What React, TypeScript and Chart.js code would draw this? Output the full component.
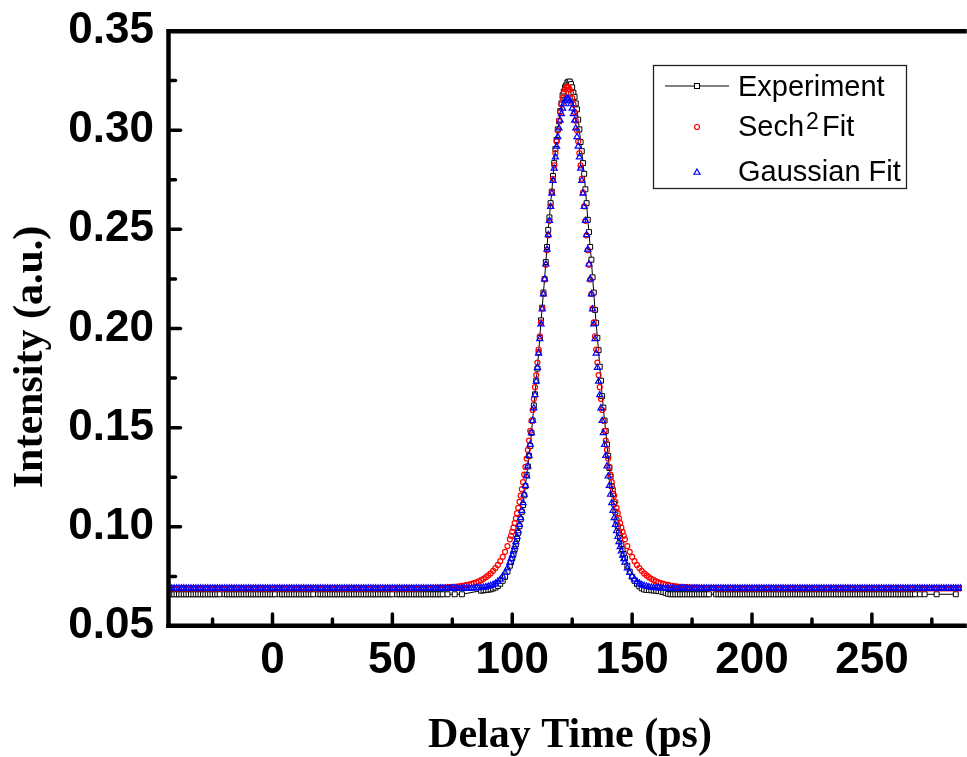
import { useEffect, useRef } from "react";
import { Chart, registerables } from "chart.js";

Chart.register(...registerables);

// ---------- axis settings ----------
const X_MIN = -44;
const X_MAX = 287.5;
const X_STEP = 50;
const Y_MIN = 0.05;
const Y_MAX = 0.35;
const Y_STEP = 0.05;

// ---------- time grids (ps) ----------
function makeTimes(start: number, end: number, step: number): number[] {
  const out: number[] = [];
  for (let i = 0; start + i * step <= end + 1e-9; i++) out.push(+(start + i * step).toFixed(2));
  return out;
}
const leftTimes = makeTimes(-44, 99, 1); // 144 points
const peakTimes = makeTimes(99.5, 146.5, 0.5); // 95 points
const rightTimes = makeTimes(147, 288, 1); // 142 points

// ---------- Experiment (intensity, a.u.) ----------
const experimentLeft: (number | null)[] = [
  0.066, 0.066, 0.066, 0.066, 0.066, 0.066, 0.066, 0.066, 0.066, 0.066, 0.066, 0.066, 0.066, 0.066, 0.066, 0.066,
  0.066, 0.066, 0.066, 0.066, 0.066, 0.066, 0.066, null, 0.066, 0.066, 0.066, 0.066, 0.066, 0.066, 0.066, 0.066,
  0.066, 0.066, 0.066, 0.066, 0.066, 0.066, 0.066, 0.066, 0.066, 0.066, 0.066, 0.066, 0.066, 0.066, null, 0.066,
  0.066, 0.066, 0.066, 0.066, 0.066, 0.066, 0.066, 0.066, 0.066, 0.066, 0.066, 0.066, 0.066, 0.066, null, 0.066,
  0.066, 0.066, 0.066, 0.066, 0.066, 0.066, 0.066, 0.066, 0.066, 0.066, 0.066, 0.066, 0.066, 0.066, 0.066, 0.066,
  0.066, 0.066, 0.066, 0.066, 0.066, 0.066, 0.066, 0.066, 0.066, 0.066, 0.066, 0.066, 0.066, 0.066, 0.066, null,
  0.066, 0.066, 0.066, 0.066, 0.066, 0.066, 0.066, 0.066, 0.066, 0.066, 0.066, 0.066, 0.066, 0.066, 0.066, 0.066,
  0.066, 0.066, 0.066, 0.066, null, 0.066, null, null, 0.066, null, null, 0.066,
  null, null, null, null, null, null, null,
  0.0678, 0.068, 0.0681, 0.0683, 0.0685, 0.0689, 0.0694, 0.0702, 0.0713, 0.0728, 0.0748, 0.0774, 0.0804,
];
const experimentPeak: number[] = [
  0.0822, 0.0842, 0.0863, 0.0887, 0.0912, 0.094, 0.097, 0.1003, 0.1038, 0.1076, 0.111, 0.1159, 0.1205, 0.1262,
  0.1304, 0.1358, 0.1408, 0.1474, 0.1536, 0.1612, 0.1668, 0.1737, 0.1798, 0.188, 0.1953, 0.2041, 0.2105, 0.2181,
  0.2249, 0.2335, 0.2411, 0.2497, 0.256, 0.2632, 0.269, 0.2769, 0.2834, 0.2905, 0.2951, 0.3004, 0.3045, 0.3096,
  0.3135, 0.3176, 0.3195, 0.3216, 0.3226, 0.3241, 0.3244, 0.3245, 0.3232, 0.3216, 0.3189, 0.3168, 0.3135, 0.3105,
  0.3053, 0.3004, 0.294, 0.2894, 0.2834, 0.278, 0.2702, 0.2632, 0.2548, 0.2486, 0.2411, 0.2347, 0.2258, 0.2181,
  0.2094, 0.2029, 0.1953, 0.1891, 0.1807, 0.1737, 0.1659, 0.1601, 0.1536, 0.1483, 0.1415, 0.1358, 0.1297, 0.1253,
  0.1205, 0.1166, 0.1116, 0.1076, 0.1033, 0.1003, 0.097, 0.0944, 0.0912, 0.0887, 0.0863,
];
const experimentRight: (number | null)[] = [
  0.0842, 0.0804, 0.0774, 0.0748, 0.0728, 0.0712, 0.07, 0.069, 0.0684, 0.0682, 0.0681, 0.068, 0.0679, 0.0678,
  0.0676, 0.0674, 0.0671, 0.0667, 0.0662,
  0.066, 0.066, 0.066, 0.066, 0.066, 0.066, 0.066, 0.066, 0.066, 0.066, 0.066, 0.066, 0.066, 0.066, 0.066, 0.066,
  0.066, null, null, 0.066, 0.066, 0.066, 0.066, 0.066, 0.066, 0.066, 0.066, 0.066, 0.066, 0.066, 0.066, 0.066,
  0.066, 0.066, 0.066, 0.066, 0.066, 0.066, 0.066, 0.066, 0.066, 0.066, 0.066, 0.066, 0.066, 0.066, 0.066, 0.066,
  0.066, 0.066, 0.066, 0.066, 0.066, 0.066, 0.066, 0.066, 0.066, 0.066, 0.066, 0.066, 0.066, 0.066, 0.066, 0.066,
  0.066, 0.066, 0.066, 0.066, 0.066, 0.066, 0.066, 0.066, 0.066, 0.066, 0.066, 0.066, 0.066, 0.066, 0.066, 0.066,
  0.066, 0.066, 0.066, 0.066, 0.066, 0.066, 0.066, 0.066, 0.066, 0.066, 0.066, 0.066, 0.066, 0.066, 0.066, 0.066,
  0.066, 0.066, 0.066, 0.066, 0.066, 0.066, 0.066, null, 0.066, null, 0.066, null, null, null, null, 0.066,
  null, null, null, null, null, null, null, 0.066, null, null, null,
];

// ---------- Sech^2 fit ----------
const sechLeft: number[] = [
  0.069, 0.069, 0.069, 0.069, 0.069, 0.069, 0.069, 0.069, 0.069, 0.069, 0.069, 0.069, 0.069, 0.069, 0.069, 0.069,
  0.069, 0.069, 0.069, 0.069, 0.069, 0.069, 0.069, 0.069, 0.069, 0.069, 0.069, 0.069, 0.069, 0.069, 0.069, 0.069,
  0.069, 0.069, 0.069, 0.069, 0.069, 0.069, 0.069, 0.069, 0.069, 0.069, 0.069, 0.069, 0.069, 0.069, 0.069, 0.069,
  0.069, 0.069, 0.069, 0.069, 0.069, 0.069, 0.069, 0.069, 0.069, 0.069, 0.069, 0.069, 0.069, 0.069, 0.069, 0.069,
  0.069, 0.069, 0.069, 0.069, 0.069, 0.069, 0.069, 0.069, 0.069, 0.069, 0.069, 0.069, 0.069, 0.069, 0.069, 0.069,
  0.069, 0.069, 0.069, 0.069, 0.069, 0.069, 0.069, 0.069, 0.069, 0.069, 0.069, 0.069, 0.069, 0.069, 0.069, 0.069,
  0.069, 0.069, 0.069, 0.069, 0.069, 0.069, 0.069, 0.069, 0.069, 0.069, 0.069,
  0.0691, 0.0691, 0.0691, 0.0692, 0.0692, 0.0692, 0.0693, 0.0693, 0.0694, 0.0694, 0.0695, 0.0696, 0.0697, 0.0698,
  0.0699, 0.07, 0.0702, 0.0704, 0.0707, 0.0709, 0.0712, 0.0716, 0.072, 0.0725, 0.0731, 0.0738, 0.0746, 0.0755,
  0.0765, 0.0778, 0.0792, 0.0808, 0.0827, 0.0849, 0.0874, 0.0903, 0.0937,
];
const sechPeak: number[] = [
  0.0955, 0.0975, 0.0996, 0.1019, 0.1043, 0.1069, 0.1096, 0.1126, 0.1157, 0.119, 0.1225, 0.1263, 0.1302, 0.1344,
  0.1388, 0.1435, 0.1484, 0.1535, 0.1589, 0.1645, 0.1704, 0.1765, 0.1828, 0.1894, 0.1961, 0.2031, 0.2101, 0.2174,
  0.2247, 0.2321, 0.2395, 0.247, 0.2543, 0.2616, 0.2687, 0.2755, 0.2822, 0.2884, 0.2943, 0.2998, 0.3048, 0.3092,
  0.313, 0.3162, 0.3187, 0.3205, 0.3216, 0.322, 0.3216, 0.3205, 0.3187, 0.3162, 0.313, 0.3092, 0.3048, 0.2998,
  0.2943, 0.2884, 0.2822, 0.2755, 0.2687, 0.2616, 0.2543, 0.247, 0.2395, 0.2321, 0.2247, 0.2174, 0.2101, 0.2031,
  0.1961, 0.1894, 0.1828, 0.1765, 0.1704, 0.1645, 0.1589, 0.1535, 0.1484, 0.1435, 0.1388, 0.1344, 0.1302, 0.1263,
  0.1225, 0.119, 0.1157, 0.1126, 0.1096, 0.1069, 0.1043, 0.1019, 0.0996, 0.0975, 0.0955,
];
const sechRight: number[] = [
  0.0937, 0.0903, 0.0874, 0.0849, 0.0827, 0.0808, 0.0792, 0.0778, 0.0765, 0.0755, 0.0746, 0.0738, 0.0731, 0.0725,
  0.072, 0.0716, 0.0712, 0.0709, 0.0707, 0.0704, 0.0702, 0.07, 0.0699, 0.0698, 0.0697, 0.0696, 0.0695, 0.0694,
  0.0694, 0.0693, 0.0693, 0.0692, 0.0692, 0.0692, 0.0691, 0.0691, 0.0691,
  0.069, 0.069, 0.069, 0.069, 0.069, 0.069, 0.069, 0.069, 0.069, 0.069, 0.069, 0.069, 0.069, 0.069, 0.069, 0.069,
  0.069, 0.069, 0.069, 0.069, 0.069, 0.069, 0.069, 0.069, 0.069, 0.069, 0.069, 0.069, 0.069, 0.069, 0.069, 0.069,
  0.069, 0.069, 0.069, 0.069, 0.069, 0.069, 0.069, 0.069, 0.069, 0.069, 0.069, 0.069, 0.069, 0.069, 0.069, 0.069,
  0.069, 0.069, 0.069, 0.069, 0.069, 0.069, 0.069, 0.069, 0.069, 0.069, 0.069, 0.069, 0.069, 0.069, 0.069, 0.069,
  0.069, 0.069, 0.069, 0.069, 0.069, 0.069, 0.069, 0.069, 0.069, 0.069, 0.069, 0.069, 0.069, 0.069, 0.069, 0.069,
  0.069, 0.069, 0.069, 0.069, 0.069, 0.069, 0.069, 0.069, 0.069, 0.069, 0.069, 0.069, 0.069, 0.069, 0.069, 0.069,
  0.069, 0.069, 0.069, 0.069, 0.069, 0.069, 0.069, 0.069, 0.069,
];

// ---------- Gaussian fit ----------
const gaussLeft: number[] = [
  0.069, 0.069, 0.069, 0.069, 0.069, 0.069, 0.069, 0.069, 0.069, 0.069, 0.069, 0.069, 0.069, 0.069, 0.069, 0.069,
  0.069, 0.069, 0.069, 0.069, 0.069, 0.069, 0.069, 0.069, 0.069, 0.069, 0.069, 0.069, 0.069, 0.069, 0.069, 0.069,
  0.069, 0.069, 0.069, 0.069, 0.069, 0.069, 0.069, 0.069, 0.069, 0.069, 0.069, 0.069, 0.069, 0.069, 0.069, 0.069,
  0.069, 0.069, 0.069, 0.069, 0.069, 0.069, 0.069, 0.069, 0.069, 0.069, 0.069, 0.069, 0.069, 0.069, 0.069, 0.069,
  0.069, 0.069, 0.069, 0.069, 0.069, 0.069, 0.069, 0.069, 0.069, 0.069, 0.069, 0.069, 0.069, 0.069, 0.069, 0.069,
  0.069, 0.069, 0.069, 0.069, 0.069, 0.069, 0.069, 0.069, 0.069, 0.069, 0.069, 0.069, 0.069, 0.069, 0.069, 0.069,
  0.069, 0.069, 0.069, 0.069, 0.069, 0.069, 0.069, 0.069, 0.069, 0.069, 0.069, 0.069, 0.069, 0.069, 0.069, 0.069,
  0.069, 0.069, 0.069, 0.069, 0.069, 0.069, 0.069, 0.069, 0.069, 0.069, 0.069, 0.069, 0.069, 0.069, 0.069, 0.069,
  0.0691, 0.0692, 0.0692, 0.0693, 0.0695, 0.0697, 0.07, 0.0703, 0.0708, 0.0715, 0.0724, 0.0735, 0.075, 0.0769,
  0.0792, 0.0821,
];
const gaussPeak: number[] = [
  0.0838, 0.0856, 0.0877, 0.0899, 0.0924, 0.095, 0.0979, 0.1011, 0.1045, 0.1082, 0.1121, 0.1163, 0.1208, 0.1255,
  0.1306, 0.1359, 0.1415, 0.1474, 0.1535, 0.1599, 0.1665, 0.1733, 0.1803, 0.1875, 0.1948, 0.2022, 0.2097, 0.2173,
  0.2249, 0.2324, 0.2399, 0.2472, 0.2544, 0.2614, 0.2681, 0.2746, 0.2807, 0.2864, 0.2918, 0.2966, 0.301, 0.3049,
  0.3082, 0.311, 0.3132, 0.3147, 0.3157, 0.316, 0.3157, 0.3147, 0.3132, 0.311, 0.3082, 0.3049, 0.301, 0.2966,
  0.2918, 0.2864, 0.2807, 0.2746, 0.2681, 0.2614, 0.2544, 0.2472, 0.2399, 0.2324, 0.2249, 0.2173, 0.2097, 0.2022,
  0.1948, 0.1875, 0.1803, 0.1733, 0.1665, 0.1599, 0.1535, 0.1474, 0.1415, 0.1359, 0.1306, 0.1255, 0.1208, 0.1163,
  0.1121, 0.1082, 0.1045, 0.1011, 0.0979, 0.095, 0.0924, 0.0899, 0.0877, 0.0856, 0.0838,
];
const gaussRight: number[] = [
  0.0821, 0.0792, 0.0769, 0.075, 0.0735, 0.0724, 0.0715, 0.0708, 0.0703, 0.07, 0.0697, 0.0695, 0.0693, 0.0692,
  0.0692, 0.0691,
  0.069, 0.069, 0.069, 0.069, 0.069, 0.069, 0.069, 0.069, 0.069, 0.069, 0.069, 0.069, 0.069, 0.069, 0.069, 0.069,
  0.069, 0.069, 0.069, 0.069, 0.069, 0.069, 0.069, 0.069, 0.069, 0.069, 0.069, 0.069, 0.069, 0.069, 0.069, 0.069,
  0.069, 0.069, 0.069, 0.069, 0.069, 0.069, 0.069, 0.069, 0.069, 0.069, 0.069, 0.069, 0.069, 0.069, 0.069, 0.069,
  0.069, 0.069, 0.069, 0.069, 0.069, 0.069, 0.069, 0.069, 0.069, 0.069, 0.069, 0.069, 0.069, 0.069, 0.069, 0.069,
  0.069, 0.069, 0.069, 0.069, 0.069, 0.069, 0.069, 0.069, 0.069, 0.069, 0.069, 0.069, 0.069, 0.069, 0.069, 0.069,
  0.069, 0.069, 0.069, 0.069, 0.069, 0.069, 0.069, 0.069, 0.069, 0.069, 0.069, 0.069, 0.069, 0.069, 0.069, 0.069,
  0.069, 0.069, 0.069, 0.069, 0.069, 0.069, 0.069, 0.069, 0.069, 0.069, 0.069, 0.069, 0.069, 0.069, 0.069, 0.069,
  0.069, 0.069, 0.069, 0.069, 0.069, 0.069, 0.069, 0.069, 0.069, 0.069, 0.069, 0.069, 0.069, 0.069,
];

// ---------- text ----------
const X_TITLE = "Delay Time (ps)";
const Y_TITLE = "Intensity (a.u.)";

function zip(times: number[], values: (number | null)[]) {
  return times.map((t, i) => ({ x: t, y: values[i] === undefined ? null : values[i] }));
}

const SANS = '"Liberation Sans", Arial, Helvetica, sans-serif';
const SERIF = '"Liberation Serif", "Times New Roman", Times, serif';

const decorPlugin = {
  id: "decor",
  afterDraw(chart: any) {
    const { ctx, chartArea: ca, scales } = chart;
    const xs = scales.x;
    const ys = scales.y;
    ctx.save();
    ctx.strokeStyle = "#000";
    ctx.fillStyle = "#000";

    const seg = (x1: number, y1: number, x2: number, y2: number) => {
      ctx.beginPath();
      ctx.moveTo(x1, y1);
      ctx.lineTo(x2, y2);
      ctx.stroke();
    };

    // inward tick marks
    ctx.lineCap = "round";
    ctx.lineWidth = 3.5;
    const axisX = ca.left + 1.5;
    const axisY = ca.bottom;
    const xMinor = new Set<number>();
    xs.ticks.forEach((t: any) => {
      const px = xs.getPixelForValue(t.value);
      seg(px, axisY, px, axisY - 12);
      [t.value - X_STEP / 2, t.value + X_STEP / 2].forEach((m) => {
        if (m >= X_MIN && m <= X_MAX) xMinor.add(+m.toFixed(3));
      });
    });
    xMinor.forEach((m) => {
      const px = xs.getPixelForValue(m);
      seg(px, axisY, px, axisY - 7);
    });
    const yMinor = new Set<number>();
    ys.ticks.forEach((t: any) => {
      const py = ys.getPixelForValue(t.value);
      seg(axisX, py, axisX + 12, py);
      [t.value - Y_STEP / 2, t.value + Y_STEP / 2].forEach((m) => {
        if (m > Y_MIN + 1e-9 && m < Y_MAX - 1e-9) yMinor.add(+m.toFixed(4));
      });
    });
    yMinor.forEach((m) => {
      const py = ys.getPixelForValue(m);
      seg(axisX, py, axisX + 7, py);
    });

    // frame
    ctx.lineCap = "butt";
    ctx.lineJoin = "miter";
    ctx.lineWidth = 4.5;
    ctx.beginPath();
    ctx.moveTo(axisX, ca.bottom + 2);
    ctx.lineTo(axisX, ca.top + 0.3);
    ctx.lineTo(ca.right + 5, ca.top + 0.3);
    ctx.stroke();
    seg(ca.left - 0.7, ca.bottom - 0.2, ca.right + 5, ca.bottom - 0.2);

    // axis titles
    ctx.font = `bold 42px ${SERIF}`;
    ctx.textAlign = "center";
    ctx.textBaseline = "alphabetic";
    ctx.fillText(X_TITLE, 570, 747);
    ctx.save();
    ctx.translate(42, 357);
    ctx.rotate(-Math.PI / 2);
    ctx.fillText(Y_TITLE, 0, 0);
    ctx.restore();

    // legend
    const lx = 653, ly = 65, lw = 254, lh = 124;
    ctx.fillStyle = "#fff";
    ctx.fillRect(lx, ly, lw, lh);
    ctx.strokeStyle = "#222";
    ctx.lineWidth = 1.3;
    ctx.strokeRect(lx + 0.5, ly + 0.5, lw - 1, lh - 1);

    const sx = 697;
    // Experiment
    ctx.strokeStyle = "#000";
    ctx.lineWidth = 1;
    seg(665, 86, 729, 86);
    ctx.fillStyle = "#fff";
    ctx.fillRect(sx - 2.5, 83.5, 5, 5);
    ctx.strokeRect(sx - 2.5, 83.5, 5, 5);
    // Sech
    ctx.strokeStyle = "#ff0000";
    ctx.lineWidth = 1.2;
    ctx.beginPath();
    ctx.arc(sx, 127, 2.5, 0, Math.PI * 2);
    ctx.stroke();
    // Gaussian
    ctx.strokeStyle = "#0000ff";
    ctx.beginPath();
    const r = 3.5, cy = 172.5;
    ctx.moveTo(sx, cy - r);
    ctx.lineTo(sx + r * Math.sin((2 * Math.PI) / 3), cy - r * Math.cos((2 * Math.PI) / 3));
    ctx.lineTo(sx + r * Math.sin((4 * Math.PI) / 3), cy - r * Math.cos((4 * Math.PI) / 3));
    ctx.closePath();
    ctx.stroke();

    ctx.fillStyle = "#000";
    ctx.textAlign = "left";
    ctx.textBaseline = "alphabetic";
    ctx.font = `29px ${SANS}`;
    ctx.fillText("Experiment", 738, 96);
    ctx.fillText("Sech", 738, 136);
    ctx.fillText("Fit", 822, 136);
    ctx.fillText("Gaussian Fit", 738, 181);
    ctx.font = `23px ${SANS}`;
    ctx.fillText("2", 806, 129);

    ctx.restore();
  },
};

export default function App() {
  const canvasRef = useRef<HTMLCanvasElement | null>(null);

  useEffect(() => {
    document.body.style.overflow = "hidden";
    const canvas = canvasRef.current;
    if (!canvas) return;

    const experiment = [...zip(leftTimes, experimentLeft), ...zip(peakTimes, experimentPeak), ...zip(rightTimes, experimentRight)];
    const sech = [...zip(leftTimes, sechLeft), ...zip(peakTimes, sechPeak), ...zip(rightTimes, sechRight)];
    const gauss = [...zip(leftTimes, gaussLeft), ...zip(peakTimes, gaussPeak), ...zip(rightTimes, gaussRight)];

    const tickFont = { family: SANS, size: 44, weight: "bold" as const };

    const chart = new Chart(canvas, {
      type: "scatter",
      data: {
        datasets: [
          {
            label: "Experiment",
            data: experiment,
            showLine: true,
            spanGaps: true,
            borderColor: "#000",
            borderWidth: 1,
            pointStyle: "rect",
            pointRadius: 3.5,
            pointBorderColor: "#000",
            pointBackgroundColor: "#fff",
            pointBorderWidth: 1,
            order: 2,
            clip: 0,
          } as any,
          {
            label: "Sech2 Fit",
            data: sech,
            showLine: false,
            pointStyle: "circle",
            pointRadius: 2.5,
            pointBorderColor: "#ff0000",
            pointBackgroundColor: "rgba(0,0,0,0)",
            pointBorderWidth: 1.2,
            order: 1,
            clip: 0,
          } as any,
          {
            label: "Gaussian Fit",
            data: gauss,
            showLine: false,
            pointStyle: "triangle",
            pointRadius: 3.5,
            pointBorderColor: "#0000ff",
            pointBackgroundColor: "rgba(0,0,0,0)",
            pointBorderWidth: 1.2,
            order: 0,
            clip: 0,
          } as any,
        ],
      },
      options: {
        responsive: false,
        animation: false,
        devicePixelRatio: 1,
        events: [],
        layout: { padding: { left: 0, top: 31, right: 0, bottom: 0 } },
        plugins: { legend: { display: false }, tooltip: { enabled: false } },
        scales: {
          x: {
            type: "linear",
            min: X_MIN,
            max: X_MAX,
            afterFit: (s: any) => {
              s.height = 131;
              s.paddingLeft = 0;
              s.paddingRight = 0;
            },
            grid: { display: false, drawTicks: false },
            border: { display: false },
            ticks: {
              stepSize: X_STEP,
              includeBounds: false,
              autoSkip: false,
              maxRotation: 0,
              padding: 8,
              color: "#000",
              font: tickFont,
              callback: (v: any) => String(v),
            },
          },
          y: {
            type: "linear",
            min: Y_MIN,
            max: Y_MAX,
            afterFit: (s: any) => {
              s.width = 167;
              s.paddingTop = 0;
              s.paddingBottom = 0;
            },
            grid: { display: false, drawTicks: false },
            border: { display: false },
            ticks: {
              stepSize: Y_STEP,
              includeBounds: false,
              autoSkip: false,
              padding: 13,
              color: "#000",
              font: tickFont,
              callback: (v: any) => Number(v).toFixed(2),
            },
          },
        },
      } as any,
      plugins: [decorPlugin],
    });

    return () => chart.destroy();
  }, []);

  return (
    <canvas
      ref={canvasRef}
      width={967}
      height={757}
      style={{ position: "absolute", left: 0, top: 0, width: 967, height: 757, display: "block" }}
    />
  );
}
